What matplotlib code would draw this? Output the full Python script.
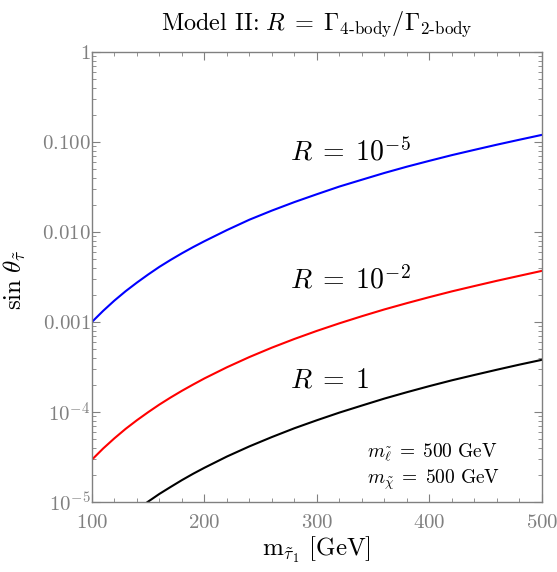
import numpy as np
import matplotlib
matplotlib.use('Agg')
import matplotlib.pyplot as plt
from matplotlib.ticker import FixedLocator, MultipleLocator, LogLocator, NullFormatter

plt.rcParams['mathtext.fontset'] = 'cm'
plt.rcParams['font.family'] = 'serif'
plt.rcParams['font.serif'] = ['DejaVu Serif']

# stau mass [GeV]
m_stau = [100, 110, 120, 130, 140, 150, 160, 170, 180, 190, 200,
          220, 240, 260, 280, 300, 320, 340, 360, 380, 400, 420, 440, 460, 480, 500]

# sin(theta_stau)
sin_R1em5 = [1.0e-3, 1.33e-3, 1.73e-3, 2.2e-3, 2.74e-3, 3.37e-3, 4.1e-3, 4.9e-3, 5.8e-3, 6.8e-3, 7.9e-3,
             1.05e-2, 1.37e-2, 1.73e-2, 2.15e-2, 2.63e-2, 3.2e-2, 3.81e-2, 4.53e-2, 5.32e-2, 6.18e-2,
             7.15e-2, 8.18e-2, 9.34e-2, 1.06e-1, 1.2e-1]
sin_R1em2 = [2.95e-5, 3.93e-5, 5.1e-5, 6.5e-5, 8.1e-5, 9.95e-5, 1.21e-4, 1.45e-4, 1.72e-4, 2.02e-4, 2.36e-4,
             3.14e-4, 4.08e-4, 5.19e-4, 6.48e-4, 7.97e-4, 9.67e-4, 1.16e-3, 1.38e-3, 1.62e-3, 1.89e-3,
             2.19e-3, 2.51e-3, 2.87e-3, 3.26e-3, 3.7e-3]
sin_R1 = [3.0e-6, 4.0e-6, 5.2e-6, 6.6e-6, 8.2e-6, 1.01e-5, 1.23e-5, 1.47e-5, 1.75e-5, 2.06e-5, 2.4e-5,
          3.2e-5, 4.15e-5, 5.27e-5, 6.6e-5, 8.1e-5, 9.85e-5, 1.18e-4, 1.41e-4, 1.66e-4, 1.94e-4,
          2.25e-4, 2.58e-4, 2.95e-4, 3.36e-4, 3.8e-4]

x_ticks = [100, 200, 300, 400, 500]
y_ticks = [1e-5, 1e-4, 1e-3, 1e-2, 1e-1, 1]
y_labels = [r'$10^{-5}$', r'$10^{-4}$', r'$0.001$', r'$0.010$', r'$0.100$', r'$1$']

gray = '#808080'

fig = plt.figure(figsize=(5.57, 5.72), dpi=100)
ax = fig.add_axes([0.165, 0.1224, 0.808, 0.7867])

ax.plot(m_stau, sin_R1em5, color='#0000ff', lw=1.5)
ax.plot(m_stau, sin_R1em2, color='#ff0000', lw=1.5)
ax.plot(m_stau, sin_R1, color='black', lw=1.5)

ax.set_yscale('log')
ax.set_xlim(100, 500)
ax.set_ylim(1e-5, 1)

ax.xaxis.set_major_locator(FixedLocator(x_ticks))
ax.set_xticklabels([r'$%d$' % v for v in x_ticks])
ax.xaxis.set_minor_locator(MultipleLocator(20))
ax.yaxis.set_major_locator(FixedLocator(y_ticks))
ax.set_yticklabels(y_labels)
ax.yaxis.set_minor_locator(LogLocator(base=10, subs=np.arange(2, 10)))
ax.yaxis.set_minor_formatter(NullFormatter())

ax.tick_params(which='both', direction='in', top=True, right=True, color=gray,
               labelcolor=gray, labelsize=15)
ax.tick_params(which='major', length=6, width=0.8)
ax.tick_params(which='minor', length=3, width=0.6)
ax.tick_params(axis='x', which='major', pad=8)
ax.tick_params(axis='y', which='major', pad=1)
for sp in ax.spines.values():
    sp.set_color(gray)
    sp.set_linewidth(1.0)

ax.text(276, 0.078, r'$R\;=\;10^{-5}$', fontsize=20, va='center', ha='left')
ax.text(276, 2.9e-3, r'$R\;=\;10^{-2}$', fontsize=20, va='center', ha='left')
ax.text(276, 2.27e-4, r'$R\;=\;1$', fontsize=20, va='center', ha='left')
ax.text(0.612, 0.112, r'$m_{\tilde{\ell}}\;=\;500\ \mathrm{GeV}$', fontsize=14,
        transform=ax.transAxes, va='center', ha='left')
ax.text(0.612, 0.05, r'$m_{\tilde{\chi}}\;=\;500\ \mathrm{GeV}$', fontsize=14,
        transform=ax.transAxes, va='center', ha='left')

ax.set_xlabel(r'$\mathrm{m}_{\tilde{\tau}_1}\ [\mathrm{GeV}]$', fontsize=18)
ax.xaxis.set_label_coords(0.5, -0.072)
ax.set_ylabel(r'$\sin\,\theta_{\tilde{\tau}}$', fontsize=18)
ax.yaxis.set_label_coords(-0.142, 0.493)
ax.set_title(r'$\text{Model II:}\ R\;=\;\Gamma_{\mathrm{4\text{-}body}}/\Gamma_{\mathrm{2\text{-}body}}$',
             fontsize=17.5, pad=16)

fig.savefig('out.png', dpi=100)
